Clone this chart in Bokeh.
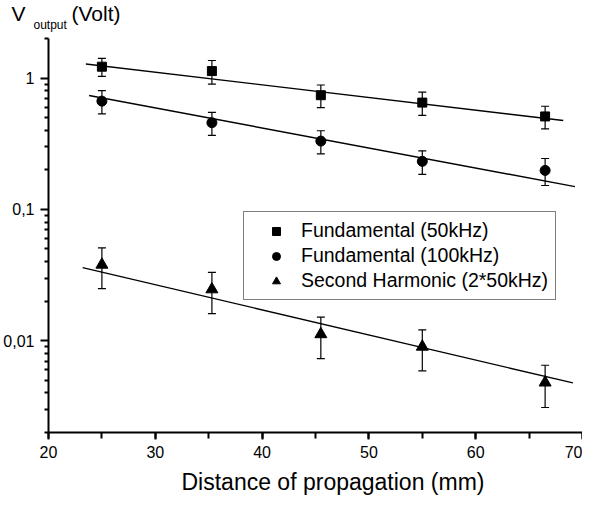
from bokeh.plotting import figure
from bokeh.models import (ColumnDataSource, Whisker, TeeHead, FixedTicker,
                          SingleIntervalTicker, CustomJSTickFormatter, Title,
                          Legend, LegendItem, Range1d, LinearAxis)
from bokeh.embed import file_html
from bokeh.resources import INLINE

FONT = "Liberation Sans"

# ---- data ----
distance = [25, 35.3, 45.5, 55, 66.5]
fund50 = [1.22, 1.13, 0.74, 0.65, 0.51]
fund50_err = [0.19, 0.23, 0.145, 0.13, 0.10]
fund100 = [0.667, 0.457, 0.331, 0.232, 0.198]
fund100_err = [0.134, 0.091, 0.066, 0.047, 0.046]
harm = [0.0379, 0.0246, 0.0112, 0.0090, 0.0048]
harm_err = [0.013, 0.0085, 0.0039, 0.0031, 0.0017]

fit50_x = [23.5, 68.2]
fit50_y = [1.28, 0.475]
fit100_x = [23.8, 69.3]
fit100_y = [0.736, 0.149]
fitharm_x = [23.2, 69.1]
fitharm_y = [0.036, 0.00477]

y_major = [0.01, 0.1, 1]
y_minor = [0.002, 0.003, 0.004, 0.005, 0.006, 0.007, 0.008, 0.009,
           0.02, 0.03, 0.04, 0.05, 0.06, 0.07, 0.08, 0.09,
           0.2, 0.3, 0.4, 0.5, 0.6, 0.7, 0.8, 0.9, 2]

labels = ["Fundamental (50kHz)", "Fundamental (100kHz)", "Second Harmonic (2*50kHz)"]
x_title = "Distance of propagation (mm)"

p = figure(width=582, height=499, y_axis_type="log",
           x_range=Range1d(20, 70), y_range=Range1d(0.002, 2),
           output_backend="svg", toolbar_location=None,
           min_border_left=45, min_border_right=0,
           min_border_top=38, min_border_bottom=67)
p.outline_line_color = None
p.grid.visible = False
p.background_fill_color = "white"
p.border_fill_color = "white"

for ax in (p.xaxis[0], p.yaxis[0]):
    ax.axis_line_width = 2
    ax.major_tick_line_width = 2
    ax.minor_tick_line_width = 2
    ax.major_tick_in = 0
    ax.minor_tick_in = 0
    ax.major_label_text_font = FONT
    ax.major_label_text_font_size = "16px"
    ax.major_label_text_color = "black"
    ax.axis_line_color = "black"
    ax.major_tick_line_color = "black"
    ax.minor_tick_line_color = "black"

p.xaxis.ticker = SingleIntervalTicker(interval=10, num_minor_ticks=2)
p.xaxis.major_tick_out = 7
p.xaxis.minor_tick_out = 6
p.xaxis.major_label_standoff = 6
p.yaxis.ticker = FixedTicker(ticks=y_major, minor_ticks=y_minor)
p.yaxis.formatter = CustomJSTickFormatter(code="return tick.toString().replace('.', ',');")
p.yaxis.major_tick_out = 8
p.yaxis.minor_tick_out = 4
p.yaxis.major_label_standoff = 6

# invisible secondary bottom axis: only a spacer between tick labels and x title
ax2 = LinearAxis(ticker=FixedTicker(ticks=[45]),
                 formatter=CustomJSTickFormatter(code="return '';"),
                 axis_line_color=None, major_tick_line_color="white",
                 minor_tick_line_color=None, major_tick_out=8, major_tick_in=0,
                 minor_tick_out=0, major_label_standoff=0,
                 major_label_text_font_size="1px")
p.add_layout(ax2, "below")

t_x = Title(text=x_title, text_font=FONT, text_font_size="23px",
            text_font_style="normal", text_color="black",
            align="left", offset=133, standoff=0, vertical_align="top")
p.add_layout(t_x, "below")

series = [
    (fund50, fund50_err, "square", 9, fit50_x, fit50_y),
    (fund100, fund100_err, "circle", 10, fit100_x, fit100_y),
    (harm, harm_err, "triangle", 12, fitharm_x, fitharm_y),
]

items = []
for (vals, errs, marker, size, fx, fy), lab in zip(series, labels):
    src = ColumnDataSource(dict(
        x=distance, y=vals,
        upper=[v + e for v, e in zip(vals, errs)],
        lower=[v - e for v, e in zip(vals, errs)]))
    p.line(fx, fy, line_color="black", line_width=1.4)
    w = Whisker(source=src, base="x", upper="upper", lower="lower",
                dimension="height", line_color="black", line_width=1.2,
                upper_head=TeeHead(size=8, line_color="black", line_width=1.2),
                lower_head=TeeHead(size=8, line_color="black", line_width=1.2))
    p.add_layout(w)
    r = p.scatter("x", "y", source=src, marker=marker, size=size,
                  fill_color="black", line_color="black")
    items.append(LegendItem(label=lab, renderers=[r]))

legend = Legend(items=items, location=(195, 132),
                border_line_color="black", border_line_width=1,
                background_fill_color="white", background_fill_alpha=1,
                label_text_font=FONT, label_text_font_size="19.5px",
                label_text_color="black",
                glyph_width=50, glyph_height=20, label_height=20,
                label_standoff=0, padding=7, spacing=2, margin=0)
p.add_layout(legend, "center")

# Y title above the axis: V_output (Volt), built from titles in the top panel
t_out = Title(text="output", text_font=FONT, text_font_size="12px",
              text_font_style="normal", text_color="black",
              align="left", offset=-15, standoff=10.5, vertical_align="middle")
t_volt = Title(text="(Volt)", text_font=FONT, text_font_size="21px",
               text_font_style="normal", text_color="black",
               align="left", offset=23, standoff=-26, vertical_align="bottom")
t_v = Title(text="V", text_font=FONT, text_font_size="21px",
            text_font_style="normal", text_color="black",
            align="left", offset=-37, standoff=-26, vertical_align="bottom")
p.add_layout(t_out, "above")
p.add_layout(t_volt, "above")
p.add_layout(t_v, "above")

open("out.html", "w").write(file_html(p, INLINE))
